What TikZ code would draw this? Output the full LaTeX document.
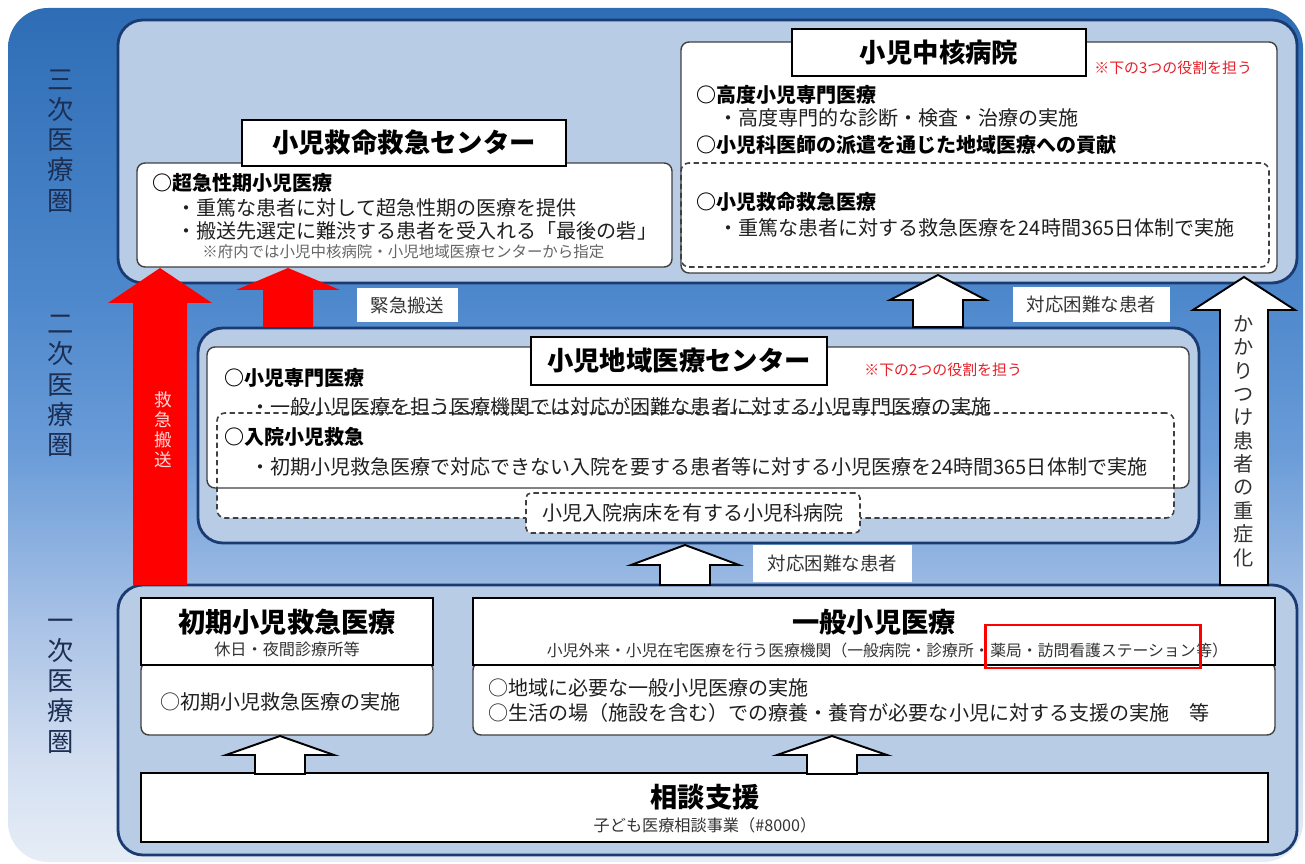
\documentclass[tikz,border=0pt]{standalone}
\usepackage{fontspec}
\setmainfont{Noto Sans CJK JP}
\usetikzlibrary{fit,calc}
\definecolor{navy}{HTML}{1A3A72}
\definecolor{tierfill}{HTML}{B8CCE6}
\definecolor{labtext}{HTML}{1C2E52}
\definecolor{notered}{HTML}{E8202A}
\definecolor{bgtop}{HTML}{2E6DB5}
\definecolor{bgm2}{HTML}{4E88CC}
\definecolor{bgmid}{HTML}{6A9CD8}
\definecolor{bgl3}{HTML}{A9C2E6}
\definecolor{bgl2}{HTML}{D2DEF0}
\definecolor{bgbot}{HTML}{E6EDF6}
\pgfdeclareverticalshading{bgshade}{100bp}{color(0bp)=(bgbot); color(25bp)=(bgbot); color(31bp)=(bgl2); color(39bp)=(bgl3); color(49bp)=(bgmid); color(58bp)=(bgm2); color(75bp)=(bgtop); color(100bp)=(bgtop)}
\newcommand{\blockup}[7]{\path[#1] ({#2-#6},#5) -- ({#2-#6},#4) -- ({#2-#7},#4) -- (#2,#3) -- ({#2+#7},#4) -- ({#2+#6},#4) -- ({#2+#6},#5) -- cycle;}
\tikzset{
  tier/.style={draw=navy, line width=1.6pt, fill=tierfill, rounded corners=0.5cm, inner sep=0pt},
  content/.style={draw=black!75, line width=0.8pt, fill=white, rounded corners=0.16cm, inner sep=0pt},
  titlebox/.style={draw=black, line width=1.2pt, fill=white, inner sep=0pt},
  titletext/.style={inner sep=0pt, text=black, font=\bfseries\fontsize{15}{18}\selectfont},
  dashbox/.style={draw=black!75, line width=0.9pt, dash pattern=on 3pt off 2pt, rounded corners=0.16cm, inner sep=0pt},
  labbox/.style={fill=white, inner sep=0pt},
  labtxt/.style={inner sep=0pt, text=black!80, font=\fontsize{10.5}{12}\selectfont},
  body/.style={anchor=west, inner sep=0pt, text=black!88, font=\fontsize{11.4}{14}\selectfont},
  head/.style={anchor=west, inner sep=0pt, text=black, font=\bfseries\fontsize{11.4}{14}\selectfont},
  small/.style={inner sep=0pt, text=black!80, font=\fontsize{9.2}{11}\selectfont},
  rednote/.style={anchor=west, inner sep=0pt, text=notered, font=\fontsize{8.5}{10}\selectfont},
  side/.style={align=center, inner sep=0pt, text=labtext, font=\fontsize{15}{17.2}\selectfont},
  redarrow/.style={fill=red},
  whitearrow/.style={fill=white, draw=black, line width=1.1pt},
}
\begin{document}
\begin{tikzpicture}[x=0.02cm, y=-0.02cm]
\useasboundingbox (0,0) rectangle (1305,864);
% background
\shade[shading=bgshade, rounded corners=0.8cm] (8,8) rectangle (1303,862);
% side labels
\node[side] (lab3) at (61,141) {三\\次\\医\\療\\圏};
\node[side] (lab2) at (61,386) {二\\次\\医\\療\\圏};
\node[side] (lab1) at (61,686) {一\\次\\医\\療\\圏};

% tiers
\node[tier, fit={(118,20) (1297,283)}] (t3) {};
\node[tier, fit={(198,328) (1199,543)}] (t2) {};
\node[tier, fit={(118,585) (1297,855)}] (t1) {};

% ===== tier 3 left
\node[content, fit={(137,163) (672,267)}] (c3a) {};
\node[titlebox, fit={(242,120) (566,166)}] (h3a) {};
\node[titletext] (h3at) at (h3a.center) {小児救命救急センター};
\node[head] (c3a1) at (152,183) {○超急性期小児医療};
\node[body] (c3a2) at (176,208) {・重篤な患者に対して超急性期の医療を提供};
\node[body] (c3a3) at (176,231) {・搬送先選定に難渋する患者を受入れる「最後の砦」};
\node[anchor=west, inner sep=0pt, text=black!60, font=\fontsize{8.8}{10}\selectfont] (c3a4) at (202,252) {※府内では小児中核病院・小児地域医療センターから指定};

% ===== tier 3 right
\node[content, fit={(681,42) (1277,273)}] (c3b) {};
\node[dashbox, fit={(681,163) (1269,267)}] (d3b) {};
\node[titlebox, fit={(792,29) (1086,76)}] (h3b) {};
\node[titletext] (h3bt) at (h3b.center) {小児中核病院};
\node[rednote] (n3b) at (1094,68) {※下の3つの役割を担う};
\node[head] (c3b1) at (696,95) {○高度小児専門医療};
\node[body] (c3b2) at (718,118) {・高度専門的な診断・検査・治療の実施};
\node[head] (c3b3) at (696,145) {○小児科医師の派遣を通じた地域医療への貢献};
\node[head] (c3b4) at (696,202) {○小児救命救急医療};
\node[body] (c3b5) at (718,228) {・重篤な患者に対する救急医療を24時間365日体制で実施};

% ===== tier 2
\node[fill=white, rounded corners=0.16cm, inner sep=0pt, fit={(217,413) (1174,518)}] (d2bg) {};
\node[content, fit={(207,347) (1189,488)}] (c2) {};
\node[dashbox, fit={(217,413) (1174,518)}] (d2) {};
\node[dashbox, fill=white, rounded corners=0.1cm, fit={(526,493) (860,533)}] (d2l) {};
\node[body, anchor=center] (d2lt) at (d2l.center) {小児入院病床を有する小児科病院};
\node[titlebox, fit={(531,337) (827,385)}] (h2) {};
\node[titletext] (h2t) at (h2.center) {小児地域医療センター};
\node[rednote] (n2) at (864,370) {※下の2つの役割を担う};
\node[head] (c21) at (224,378) {○小児専門医療};
\node[body] (c22) at (250,407) {・一般小児医療を担う医療機関では対応が困難な患者に対する小児専門医療の実施};
\node[head] (c23) at (224,437) {○入院小児救急};
\node[body] (c24) at (250,467) {・初期小児救急医療で対応できない入院を要する患者等に対する小児医療を24時間365日体制で実施};

% ===== tier 1
\node[content, fit={(141,662) (433,735)}] (c1a) {};
\node[titlebox, fit={(141,598) (433,665)}] (h1a) {};
\node[titletext, font=\bfseries\fontsize{15.5}{18}\selectfont] (h1at) at (287,622) {初期小児救急医療};
\node[small] (h1as) at (287,649) {休日・夜間診療所等};
\node[body] (c1a1) at (160,702) {○初期小児救急医療の実施};

\node[content, fit={(473,662) (1275,735)}] (c1b) {};
\node[titlebox, fit={(473,598) (1275,665)}] (h1b) {};
\node[titletext, font=\bfseries\fontsize{15.5}{18}\selectfont] (h1bt) at (874,622) {一般小児医療};
\node[small, anchor=west, font=\fontsize{9}{11}\selectfont] (s2) at (990,650) {薬局・訪問看護ステーション};
\node[small, anchor=east, font=\fontsize{9}{11}\selectfont] (s1) at (s2.west) {小児外来・小児在宅医療を行う医療機関（一般病院・診療所・};
\node[small, anchor=west, font=\fontsize{9}{11}\selectfont] (s3) at (s2.east) {等）};
\coordinate (ry1) at (0,625);
\coordinate (ry2) at (0,668);
\node[draw=red, line width=1.7pt, inner sep=0pt, fit={([xshift=-0.1cm]s2.west |- ry1) ([xshift=0.1cm]s2.east |- ry2)}] (hl) {};
\node[body] (c1b1) at (488,688) {○地域に必要な一般小児医療の実施};
\node[body] (c1b2) at (488,713) {○生活の場（施設を含む）での療養・養育が必要な小児に対する支援の実施　等};

\node[titlebox, fit={(141,773) (1268,842)}] (h1c) {};
\node[titletext, font=\bfseries\fontsize{15.5}{18}\selectfont] (h1ct) at (705,797) {相談支援};
\node[small] (h1cs) at (705,825) {子ども医療相談事業（\#8000）};

% ===== arrows
\blockup{redarrow}{160}{268}{303}{585}{27}{52}
\blockup{redarrow}{288}{268}{290}{327}{25}{52}
\blockup{whitearrow}{938}{275}{300}{327}{25}{48}
\blockup{whitearrow}{1244}{277}{310}{585}{24}{51}
\blockup{whitearrow}{685}{545}{565}{585}{25}{54}
\blockup{whitearrow}{280}{736}{755}{774}{25}{54}
\blockup{whitearrow}{832}{736}{755}{774}{25}{55}

% arrow texts
\node[align=center, inner sep=0pt, text=red!15, font=\fontsize{10}{11.3}\selectfont] (redv) at (163,430) {救\\急\\搬\\送};
\node[align=center, inner sep=0pt, text=black!80, font=\fontsize{11.5}{13.3}\selectfont] (kakari) at (1244,441) {か\\か\\り\\つ\\け\\患\\者\\の\\重\\症\\化};

% labels
\node[labbox, fit={(357,288) (458,322)}] (l1) {};
\node[labtxt] (l1t) at (l1.center) {緊急搬送};
\node[labbox, fit={(1013,287) (1170,322)}] (l2) {};
\node[labtxt] (l2t) at (l2.center) {対応困難な患者};
\node[labbox, fit={(753,545) (912,582)}] (l3) {};
\node[labtxt] (l3t) at (l3.center) {対応困難な患者};
\end{tikzpicture}
\end{document}
